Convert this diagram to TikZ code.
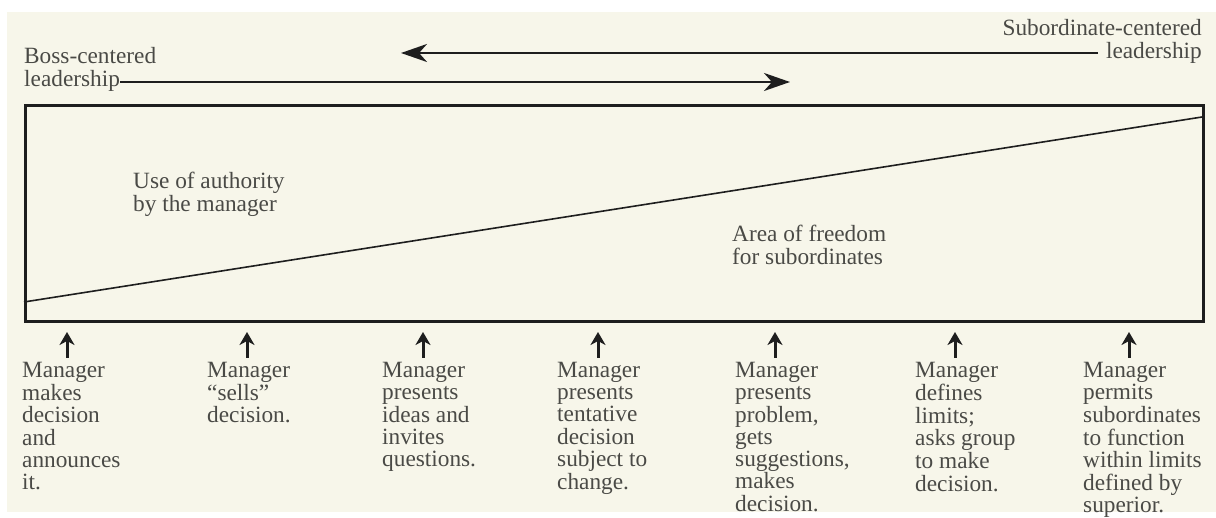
\documentclass[tikz,border=0pt]{standalone}
\usepackage{fontspec}
\setmainfont{Liberation Serif}
\usetikzlibrary{arrows.meta}
\definecolor{paper}{HTML}{F7F6EA}
\definecolor{ink}{HTML}{1E1E1E}
\definecolor{txt}{HTML}{4A4A46}
\newcommand{\ltab}[1]{\begin{tabular}[t]{@{}l@{}}#1\end{tabular}}
\newcommand{\rtab}[1]{\begin{tabular}[t]{@{}r@{}}#1\end{tabular}}
\begin{document}
\begin{tikzpicture}[x=1pt,y=-1pt,
  lbl/.style={anchor=base west, inner sep=0pt, text=txt,
    font=\fontsize{23.3}{21.9}\selectfont},
  rlbl/.style={lbl, anchor=base east},
  frame/.style={draw=ink, line width=2.6pt, inner sep=0pt, anchor=north west},
  slope/.style={draw=ink, line width=1.6pt},
  longarrow/.style={draw=ink, line width=2.6pt, -{Stealth[length=26pt,width=18pt,inset=8pt]}},
  uparrow/.style={draw=ink, line width=3pt, -{Stealth[length=13pt,width=15pt,inset=4pt]}}]
\useasboundingbox (0,0) rectangle (1216,518);
\fill[white] (0,0) rectangle (1216,518);
\fill[paper] (7,12) rectangle (1216,512);

% frame
\node[frame, minimum width=1178pt, minimum height=216pt] (box) at (24,104) {};
\coordinate (sl) at (24,302);
\coordinate (sr) at (1202,117);
\draw[slope] (sl) -- (sr);

% top labels
\node[lbl] (boss) at (24,64) {\ltab{Boss-centered\\leadership}};
\node[rlbl] (sub) at (1202,35.5) {\rtab{Subordinate-centered\\leadership}};
\coordinate (bossend) at (120,82);
\coordinate (bosstip) at (790,82);
\coordinate (subend) at (1098,53);
\coordinate (subtip) at (401,53);
\draw[longarrow] (bossend) -- (bosstip);
\draw[longarrow] (subend) -- (subtip);

% inner labels
\node[lbl] (auth) at (133,189) {\ltab{Use of authority\\by the manager}};
\node[lbl] (free) at (732,242) {\ltab{Area of freedom\\for subordinates}};

% bottom labels
\node[lbl] (m1) at (22,377.5) {\ltab{Manager\\makes\\decision\\and\\announces\\it.}};
\node[lbl] (m2) at (207,377.5) {\ltab{Manager\\``sells''\\decision.}};
\node[lbl] (m3) at (382,377.5) {\ltab{Manager\\presents\\ideas and\\invites\\questions.}};
\node[lbl] (m4) at (557,377.5) {\ltab{Manager\\presents\\tentative\\decision\\subject to\\change.}};
\node[lbl] (m5) at (735,377.5) {\ltab{Manager\\presents\\problem,\\gets\\suggestions,\\makes\\decision.}};
\node[lbl] (m6) at (915,377.5) {\ltab{Manager\\defines\\limits;\\asks group\\to make\\decision.}};
\node[lbl] (m7) at (1083,377.5) {\ltab{Manager\\permits\\subordinates\\to function\\within limits\\defined by\\superior.}};

\foreach \n/\x in {1/67, 2/247, 3/423, 4/598, 5/775, 6/955, 7/1129} {
  \coordinate (a\n) at (\x,358);
  \coordinate (t\n) at (\x,332);
  \draw[uparrow] (a\n) -- (t\n);
}
\end{tikzpicture}
\end{document}
